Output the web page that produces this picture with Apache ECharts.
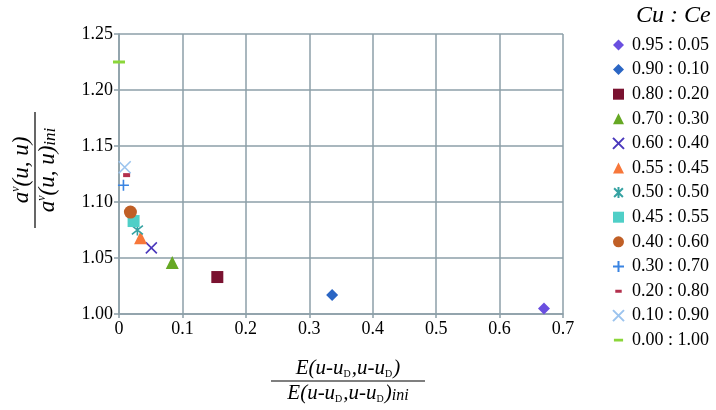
<!DOCTYPE html>
<html>
<head>
<meta charset="utf-8">
<script src="https://cdn.jsdelivr.net/npm/echarts@6/dist/echarts.min.js"></script>
<style>
  html, body { margin: 0; padding: 0; background: #fff; }
  #chart { width: 716px; height: 410px; }
</style>
</head>
<body>
<div id="chart"></div>
<script>
// Cu : Ce composition of each sample
var ratioLabels = [
  "0.95 : 0.05", "0.90 : 0.10", "0.80 : 0.20", "0.70 : 0.30", "0.60 : 0.40",
  "0.55 : 0.45", "0.50 : 0.50", "0.45 : 0.55", "0.40 : 0.60", "0.30 : 0.70",
  "0.20 : 0.80", "0.10 : 0.90", "0.00 : 1.00"
];
// E(u-uD,u-uD) / E(u-uD,u-uD)ini
var energyRatio = [0.670, 0.336, 0.155, 0.084, 0.051, 0.034, 0.029, 0.023, 0.018, 0.007, 0.012, 0.009, 0.000];
// a^v(u,u) / a^v(u,u)ini
var aRatio = [1.005, 1.017, 1.033, 1.046, 1.059, 1.068, 1.075, 1.083, 1.091, 1.115, 1.124, 1.131, 1.225];

var xTicks = [0, 0.1, 0.2, 0.3, 0.4, 0.5, 0.6, 0.7];
var yTicks = [1.00, 1.05, 1.10, 1.15, 1.20, 1.25];

var serif = "'Liberation Serif', 'Times New Roman', serif";
var gridColor = "#8c9fa8";

var X_PATH = "path://M0,0L10,10M0,10L10,0";
var STAR_PATH = "path://M1,1L9,9M1,9L9,1M5,0L5,10";
var PLUS_PATH = "path://M0,5L10,5M5,0L5,10";
// dash icons for the legend, padded to a 12x12 box
var SMALL_DASH = "path://M0,0L0.01,0.01ZM2.5,4.5L9.5,4.5L9.5,8L2.5,8ZM11.99,11.99L12,12Z";
var LONG_DASH = "path://M0,0L0.01,0.01ZM1,4.5L11,4.5L11,7.5L1,7.5ZM11.99,11.99L12,12Z";

var markers = [
  { symbol: "diamond", size: 12, color: "#6a4fe0" },
  { symbol: "diamond", size: 12, color: "#2b66c4" },
  { symbol: "rect", size: 12, color: "#7a1230" },
  { symbol: "triangle", size: 13, color: "#66a824" },
  { symbol: X_PATH, size: 11, stroke: "#4a38bc" },
  { symbol: "triangle", size: 13, color: "#f7773a" },
  { symbol: STAR_PATH, size: 11, stroke: "#35a2a2" },
  { symbol: "rect", size: 12, color: "#4fcfc7" },
  { symbol: "circle", size: 13, color: "#c05f26" },
  { symbol: PLUS_PATH, size: 11, stroke: "#3a84e2" },
  { symbol: "rect", size: [7, 4], color: "#b3304d", icon: SMALL_DASH },
  { symbol: X_PATH, size: 12, stroke: "#9cc4ee" },
  { symbol: "rect", size: [12, 3], color: "#8bd63a", icon: LONG_DASH }
];

var seriesArr = [];
var legendData = [];
for (var i = 0; i < ratioLabels.length; i++) {
  var m = markers[i];
  var itemStyle = m.stroke
    ? { color: "rgba(0,0,0,0)", borderColor: m.stroke, borderWidth: 1.6, opacity: 1 }
    : { color: m.color, borderWidth: 0, opacity: 1 };
  seriesArr.push({
    type: "scatter",
    name: ratioLabels[i],
    data: [[energyRatio[i], aRatio[i]]],
    symbol: m.symbol,
    symbolSize: m.size,
    itemStyle: itemStyle,
    emphasis: { disabled: true }
  });
  var ld = { name: ratioLabels[i] };
  if (m.icon) ld.icon = m.icon;
  legendData.push(ld);
}

var myChart = echarts.init(document.getElementById("chart"));
myChart.setOption({
  animation: false,
  grid: { left: 119, right: 153, top: 34, bottom: 96 },
  title: {
    text: "Cu : Ce",
    left: 631,
    top: -1,
    textStyle: { fontFamily: serif, fontStyle: "italic", fontWeight: "normal", fontSize: 24, color: "#000" }
  },
  legend: {
    orient: "vertical",
    left: 607,
    top: 31,
    itemWidth: 11,
    itemHeight: 11,
    itemGap: 6.6,
    data: legendData,
    textStyle: { fontFamily: serif, fontSize: 18, color: "#000", padding: [0, 0, 0, 3] }
  },
  xAxis: {
    type: "value",
    min: 0,
    max: 0.7,
    interval: 0.1,
    axisLine: { lineStyle: { color: gridColor, width: 1.5 } },
    axisTick: { show: true, length: 4, lineStyle: { color: gridColor, width: 1.5 } },
    axisLabel: {
      fontFamily: serif, fontSize: 18, color: "#000", margin: 6,
      formatter: function (v) { return String(xTicks[Math.round(v * 10)]); }
    },
    splitLine: { show: true, lineStyle: { color: gridColor, width: 1.5 } }
  },
  yAxis: {
    type: "value",
    min: 1.0,
    max: 1.25,
    interval: 0.05,
    axisLine: { show: true, lineStyle: { color: gridColor, width: 1.5 } },
    axisTick: { show: true, length: 5, lineStyle: { color: gridColor, width: 1.5 } },
    axisLabel: {
      fontFamily: serif, fontSize: 18, color: "#000", margin: 6,
      formatter: function (v) { return yTicks[Math.round((v - 1) / 0.05)].toFixed(2); }
    },
    splitLine: { show: true, lineStyle: { color: gridColor, width: 1.5 } }
  },
  graphic: [
    // x axis name as a fraction
    {
      type: "group",
      x: 348,
      y: 381,
      children: [
        { type: "line", shape: { x1: -77, y1: 0, x2: 77, y2: 0 }, style: { stroke: "#000", lineWidth: 1.2 } },
        {
          type: "text", x: 0, y: -2,
          style: {
            text: "E(u-u{s|D},u-u{s|D})",
            align: "center", verticalAlign: "bottom",
            font: "italic 21px " + serif, fill: "#000",
            rich: { s: { fontSize: 10, fontFamily: serif, fontStyle: "normal", verticalAlign: "bottom", padding: [0, 1, 0, 0] } }
          }
        },
        {
          type: "text", x: 0, y: 2,
          style: {
            text: "E(u-u{s|D},u-u{s|D}){i|ini}",
            align: "center", verticalAlign: "top",
            font: "italic 21px " + serif, fill: "#000",
            rich: {
              s: { fontSize: 10, fontFamily: serif, fontStyle: "normal", verticalAlign: "bottom", padding: [0, 1, 0, 0] },
              i: { fontSize: 16, fontFamily: serif, fontStyle: "italic", verticalAlign: "bottom" }
            }
          }
        }
      ]
    },
    // y axis name as a rotated fraction
    {
      type: "group",
      x: 35,
      y: 170,
      rotation: Math.PI / 2,
      children: [
        { type: "line", shape: { x1: -58, y1: 0, x2: 58, y2: 0 }, style: { stroke: "#000", lineWidth: 1.2 } },
        {
          type: "text", x: 0, y: -2,
          style: {
            text: "a{v|v}(u, u)",
            align: "center", verticalAlign: "bottom",
            font: "italic 23px " + serif, fill: "#000",
            rich: { v: { fontSize: 12, fontFamily: serif, fontStyle: "italic", verticalAlign: "top" } }
          }
        },
        {
          type: "text", x: 0, y: 1,
          style: {
            text: "a{v|v}(u, u){i|ini}",
            align: "center", verticalAlign: "top",
            font: "italic 23px " + serif, fill: "#000",
            rich: {
              v: { fontSize: 12, fontFamily: serif, fontStyle: "italic", verticalAlign: "top" },
              i: { fontSize: 17, fontFamily: serif, fontStyle: "italic", verticalAlign: "bottom" }
            }
          }
        }
      ]
    }
  ],
  series: seriesArr
});
</script>
</body>
</html>
